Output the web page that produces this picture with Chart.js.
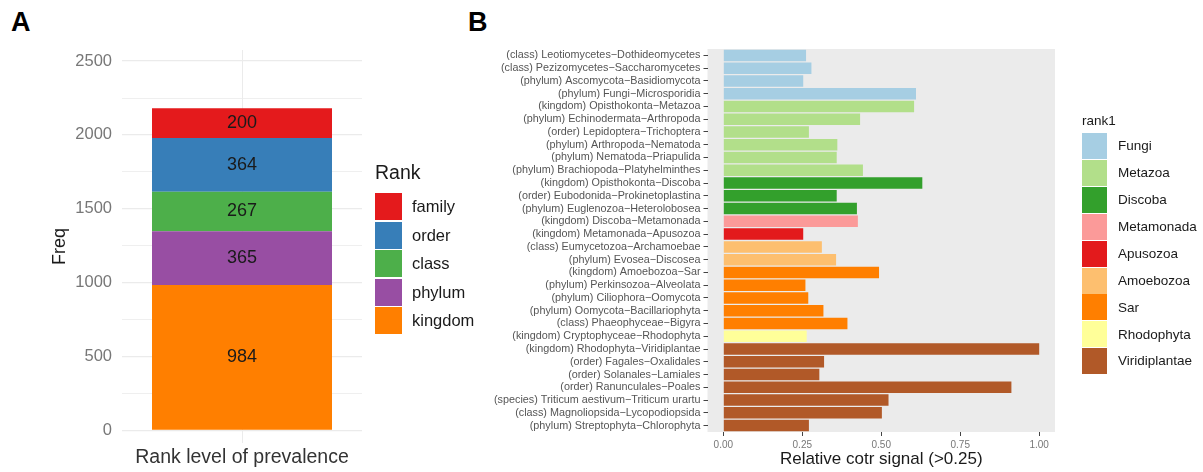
<!DOCTYPE html>
<html>
<head>
<meta charset="utf-8">
<script src="https://cdn.jsdelivr.net/npm/chart.js@4"></script>
<style>
  html, body { margin: 0; padding: 0; background: #fff; }
  body { width: 1203px; height: 472px; position: relative; overflow: hidden; font-family: "Liberation Sans", Arial, sans-serif; }
  .panel-letter { position: absolute; font-weight: bold; font-size: 27px; color: #000; line-height: 1; }
  .box { position: absolute; }
  .legend-title, .legend-label { position: absolute; color: #1a1a1a; white-space: nowrap; line-height: 1; }
</style>
</head>
<body>
<div class="panel-letter" style="left:11px; top:9px;">A</div>
<div class="panel-letter" style="left:468px; top:9px;">B</div>

<div class="box" style="left:0; top:0; width:480px; height:472px;"><canvas id="rankChart"></canvas></div>
<div class="box" style="left:470px; top:0; width:733px; height:472px;"><canvas id="cotrChart"></canvas></div>
<div id="rankLegend"></div>
<div id="cotrLegend"></div>

<script>
// Panel A - stacked counts per rank (bottom to top)
const rankNames = ["kingdom", "phylum", "class", "order", "family"];
const rankFreq = [984, 365, 267, 364, 200];
const rankColors = ["#FF7F00", "#984EA3", "#4DAF4A", "#377EB8", "#E41A1C"];
const rankTicks = [0, 500, 1000, 1500, 2000, 2500];

// Panel B - relative cotr signal per pair (top to bottom)
const pairLabels = [
  "(class) Leotiomycetes\u2212Dothideomycetes",
  "(class) Pezizomycetes\u2212Saccharomycetes",
  "(phylum) Ascomycota\u2212Basidiomycota",
  "(phylum) Fungi\u2212Microsporidia",
  "(kingdom) Opisthokonta\u2212Metazoa",
  "(phylum) Echinodermata\u2212Arthropoda",
  "(order) Lepidoptera\u2212Trichoptera",
  "(phylum) Arthropoda\u2212Nematoda",
  "(phylum) Nematoda\u2212Priapulida",
  "(phylum) Brachiopoda\u2212Platyhelminthes",
  "(kingdom) Opisthokonta\u2212Discoba",
  "(order) Eubodonida\u2212Prokinetoplastina",
  "(phylum) Euglenozoa\u2212Heterolobosea",
  "(kingdom) Discoba\u2212Metamonada",
  "(kingdom) Metamonada\u2212Apusozoa",
  "(class) Eumycetozoa\u2212Archamoebae",
  "(phylum) Evosea\u2212Discosea",
  "(kingdom) Amoebozoa\u2212Sar",
  "(phylum) Perkinsozoa\u2212Alveolata",
  "(phylum) Ciliophora\u2212Oomycota",
  "(phylum) Oomycota\u2212Bacillariophyta",
  "(class) Phaeophyceae\u2212Bigyra",
  "(kingdom) Cryptophyceae\u2212Rhodophyta",
  "(kingdom) Rhodophyta\u2212Viridiplantae",
  "(order) Fagales\u2212Oxalidales",
  "(order) Solanales\u2212Lamiales",
  "(order) Ranunculales\u2212Poales",
  "(species) Triticum aestivum\u2212Triticum urartu",
  "(class) Magnoliopsida\u2212Lycopodiopsida",
  "(phylum) Streptophyta\u2212Chlorophyta"
];
const pairSignal = [
  0.262, 0.279, 0.253, 0.610, 0.604, 0.433, 0.271, 0.361, 0.359, 0.442,
  0.630, 0.359, 0.423, 0.426, 0.253, 0.312, 0.357, 0.493, 0.260, 0.269,
  0.317, 0.393, 0.264, 1.000, 0.319, 0.304, 0.912, 0.523, 0.502, 0.271
];
const pairGroup = [
  "Fungi", "Fungi", "Fungi", "Fungi", "Metazoa", "Metazoa", "Metazoa", "Metazoa", "Metazoa", "Metazoa",
  "Discoba", "Discoba", "Discoba", "Metamonada", "Apusozoa", "Amoebozoa", "Amoebozoa", "Sar", "Sar", "Sar",
  "Sar", "Sar", "Rhodophyta", "Viridiplantae", "Viridiplantae", "Viridiplantae", "Viridiplantae", "Viridiplantae", "Viridiplantae", "Viridiplantae"
];
const groupNames = ["Fungi", "Metazoa", "Discoba", "Metamonada", "Apusozoa", "Amoebozoa", "Sar", "Rhodophyta", "Viridiplantae"];
const groupColors = ["#A6CEE3", "#B2DF8A", "#33A02C", "#FB9A99", "#E31A1C", "#FDBF6F", "#FF7F00", "#FFFF99", "#B15928"];
const signalTicks = [0, 0.25, 0.5, 0.75, 1];

const FONT = "'Liberation Sans', Arial, sans-serif";

// Draw the counts in the middle of each stacked segment
const segmentLabels = {
  id: "segmentLabels",
  afterDatasetsDraw(chart) {
    const ctx = chart.ctx;
    ctx.save();
    ctx.font = "18px " + FONT;
    ctx.fillStyle = "#1a1a1a";
    ctx.textAlign = "center";
    ctx.textBaseline = "middle";
    chart.data.datasets.forEach((ds, i) => {
      const bar = chart.getDatasetMeta(i).data[0];
      ctx.fillText(String(ds.data[0]), bar.x, (bar.y + bar.base) / 2);
    });
    ctx.restore();
  }
};

// Grey ggplot panel behind the bars
const panelBackground = {
  id: "panelBackground",
  beforeDraw(chart) {
    const a = chart.chartArea;
    const ctx = chart.ctx;
    ctx.save();
    ctx.fillStyle = "#EBEBEB";
    ctx.fillRect(a.left, a.top, a.right - a.left, a.bottom - a.top);
    ctx.restore();
  }
};

// Panel A chart
new Chart(document.getElementById("rankChart"), {
  type: "bar",
  data: {
    labels: ["Rank level of prevalence"],
    datasets: rankNames.map((name, i) => ({
      label: name,
      data: [rankFreq[i]],
      backgroundColor: rankColors[i],
      borderWidth: 0,
      barPercentage: 0.75,
      categoryPercentage: 1
    }))
  },
  options: {
    responsive: true,
    maintainAspectRatio: false,
    animation: false,
    layout: { padding: { left: 0, top: 50, right: 118, bottom: 0 } },
    plugins: { legend: { display: false }, tooltip: { enabled: false } },
    scales: {
      x: {
        stacked: true,
        grid: { offset: false, color: "#EBEBEB", lineWidth: 1, drawTicks: false },
        border: { display: false },
        ticks: { display: false },
        title: {
          display: true,
          text: "Rank level of prevalence",
          color: "#333",
          font: { family: FONT, size: 19.5 },
          padding: { top: 0, bottom: 3 }
        },
        afterFit(scale) { scale.height = 29; }
      },
      y: {
        stacked: true,
        min: -85,
        max: 2575,
        grid: {
          color: "#EBEBEB",
          lineWidth: (c) => (c.tick && c.tick.value % 500 === 0 ? 1.3 : 0.8),
          drawTicks: false
        },
        border: { display: false },
        ticks: {
          stepSize: 250,
          includeBounds: false,
          padding: 10,
          color: "#777",
          font: { family: FONT, size: 16.5 },
          callback: (v) => (rankTicks.includes(v) ? String(v) : "")
        },
        title: {
          display: true,
          text: "Freq",
          color: "#1a1a1a",
          font: { family: FONT, size: 18 },
          padding: { top: 49, bottom: 0 }
        },
        afterFit(scale) { scale.width = 122; }
      }
    }
  },
  plugins: [segmentLabels]
});

// Panel B chart
new Chart(document.getElementById("cotrChart"), {
  type: "bar",
  data: {
    labels: pairLabels,
    datasets: [{
      data: pairSignal,
      backgroundColor: pairGroup.map((g) => groupColors[groupNames.indexOf(g)]),
      borderWidth: 0,
      barPercentage: 0.9,
      categoryPercentage: 1
    }]
  },
  options: {
    indexAxis: "y",
    responsive: true,
    maintainAspectRatio: false,
    animation: false,
    layout: { padding: { left: 0, top: 49, right: 148, bottom: 0 } },
    plugins: { legend: { display: false }, tooltip: { enabled: false } },
    scales: {
      x: {
        min: -0.05,
        max: 1.05,
        grid: { drawOnChartArea: false, drawTicks: true, tickLength: 4, color: "#444" },
        border: { display: false },
        ticks: {
          stepSize: 0.25,
          includeBounds: false,
          padding: 3,
          color: "#777",
          font: { family: FONT, size: 10 },
          callback: (v) => (signalTicks.includes(v) ? v.toFixed(2) : "")
        },
        title: {
          display: true,
          text: "Relative cotr signal (>0.25)",
          color: "#1a1a1a",
          font: { family: FONT, size: 17 },
          padding: { top: 0, bottom: 2 }
        },
        afterFit(scale) { scale.height = 40; }
      },
      y: {
        grid: { drawOnChartArea: false, drawTicks: true, tickLength: 4, offset: false, color: "#444" },
        border: { display: false },
        ticks: {
          autoSkip: false,
          padding: 3,
          color: "#555",
          font: { family: FONT, size: 10.8 }
        },
        afterFit(scale) { scale.width = 237.5; }
      }
    }
  },
  plugins: [panelBackground]
});

// HTML legends (ggplot style)
function buildLegend(containerId, title, names, colors, opt) {
  const el = document.getElementById(containerId);
  let html = `<div class="legend-title" style="left:${opt.x}px; top:${opt.titleY}px; font-size:${opt.titleSize}px;">${title}</div>`;
  names.forEach((name, i) => {
    const top = opt.y + i * opt.step;
    html += `<div class="box" style="left:${opt.x}px; top:${top}px; width:${opt.w}px; height:${opt.h}px; background:${colors[i]};"></div>`;
    html += `<div class="legend-label" style="left:${opt.x + opt.w + opt.gap}px; top:${top + (opt.h - opt.labelSize) / 2}px; font-size:${opt.labelSize}px;">${name}</div>`;
  });
  el.innerHTML = html;
}

buildLegend("rankLegend", "Rank", rankNames.slice().reverse(), rankColors.slice().reverse(), {
  x: 375, titleY: 163, titleSize: 19.5, y: 193, step: 28.5, w: 27, h: 27, gap: 10, labelSize: 16.5
});
buildLegend("cotrLegend", "rank1", groupNames, groupColors, {
  x: 1082, titleY: 114, titleSize: 13.5, y: 133, step: 26.9, w: 25, h: 26, gap: 11, labelSize: 13.5
});
</script>
</body>
</html>
